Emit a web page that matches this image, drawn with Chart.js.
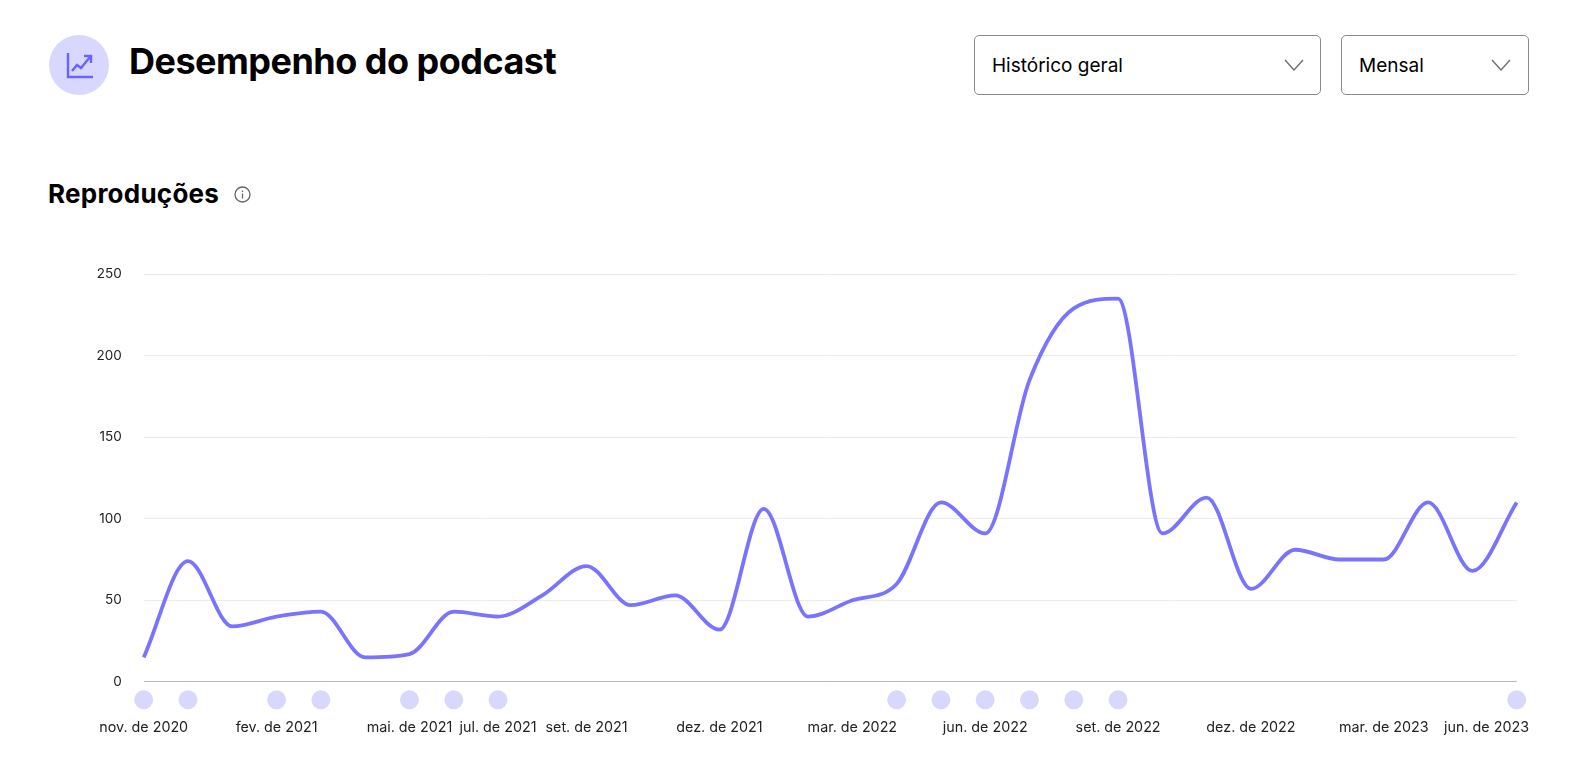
<!DOCTYPE html>
<html lang="pt-BR">
<head>
<meta charset="utf-8">
<title>Desempenho do podcast</title>
<script src="https://cdn.jsdelivr.net/npm/chart.js@4"></script>
<style>
  html, body { margin: 0; padding: 0; background: #fff; width: 1576px; height: 767px; overflow: hidden; font-family: Inter, sans-serif; color: #000; }
  .abs { position: absolute; }
  #badge { left: 49px; top: 35px; width: 60px; height: 60px; border-radius: 50%; background: #d8d8ff; }
  #badge svg { position: absolute; left: 17px; top: 17px; }
  h1 { margin: 0; left: 129px; top: 38px; font-size: 36px; line-height: 46px; font-weight: 700; letter-spacing: -0.52px; white-space: nowrap; }
  h2 { margin: 0; left: 48px; top: 177px; font-size: 26px; line-height: 34px; font-weight: 700; letter-spacing: 0.25px; white-space: nowrap; }
  .select { box-sizing: border-box; height: 60px; top: 35px; border: 1px solid #8a8a8a; border-radius: 5px; font-size: 19px; line-height: 60px; padding-left: 17px; white-space: nowrap; }
  .select svg { position: absolute; top: 23px; }
  #period { left: 974px; width: 347px; }
  #freq { left: 1341px; width: 188px; }
  #info { left: 234px; top: 186px; }
  #wrap { left: 48px; top: 244px; width: 1481px; height: 504px; }
</style>
</head>
<body>
<div class="abs" id="badge">
  <svg width="27" height="27" viewBox="0 0 27 27" fill="none" stroke="#6a63ff" stroke-width="2.4">
    <path d="M2 1v24h25"/>
    <path d="M6 19l5-6 4 3 9-11"/>
    <path d="M18 4h7v7"/>
  </svg>
</div>
<h1 class="abs">Desempenho do podcast</h1>
<div class="abs select" id="period">Histórico geral
  <svg style="left:309px" width="20" height="12" viewBox="0 0 20 12" fill="none" stroke="#6f6f6f" stroke-width="1.4"><path d="M1 1l9 10 9-10"/></svg>
</div>
<div class="abs select" id="freq">Mensal
  <svg style="left:149px" width="20" height="12" viewBox="0 0 20 12" fill="none" stroke="#6f6f6f" stroke-width="1.4"><path d="M1 1l9 10 9-10"/></svg>
</div>
<h2 class="abs">Reproduções</h2>
<svg class="abs" id="info" width="17" height="17" viewBox="0 0 17 17" fill="none" stroke="#666" stroke-width="1.3">
  <circle cx="8.5" cy="8.5" r="7.5"/>
  <path d="M8.5 7.5v5M8.5 4.5v1.4"/>
</svg>
<div class="abs" id="wrap"><canvas id="chart"></canvas></div>

<script>
const months = [
  'nov. de 2020', 'dez. de 2020', 'jan. de 2021', 'fev. de 2021', 'mar. de 2021', 'abr. de 2021',
  'mai. de 2021', 'jun. de 2021', 'jul. de 2021', 'ago. de 2021', 'set. de 2021', 'out. de 2021',
  'nov. de 2021', 'dez. de 2021', 'jan. de 2022', 'fev. de 2022', 'mar. de 2022', 'abr. de 2022',
  'mai. de 2022', 'jun. de 2022', 'jul. de 2022', 'ago. de 2022', 'set. de 2022', 'out. de 2022',
  'nov. de 2022', 'dez. de 2022', 'jan. de 2023', 'fev. de 2023', 'mar. de 2023', 'abr. de 2023',
  'mai. de 2023', 'jun. de 2023'
];
const plays = [15, 74, 34, 40, 43, 15, 17, 43, 40, 53, 71, 47, 53, 32, 106, 40, 50, 60, 110, 91, 185, 229, 235, 91, 113, 57, 81, 75, 75, 110, 68, 110];
const episodeMonths = [
  'nov. de 2020', 'dez. de 2020', 'fev. de 2021', 'mar. de 2021', 'mai. de 2021', 'jun. de 2021', 'jul. de 2021',
  'abr. de 2022', 'mai. de 2022', 'jun. de 2022', 'jul. de 2022', 'ago. de 2022', 'set. de 2022', 'jun. de 2023'
];
const shownMonths = [
  'nov. de 2020', 'fev. de 2021', 'mai. de 2021', 'jul. de 2021', 'set. de 2021', 'dez. de 2021',
  'mar. de 2022', 'jun. de 2022', 'set. de 2022', 'dez. de 2022', 'mar. de 2023'
];
const lastMonth = 'jun. de 2023';
const yTicks = [0, 50, 100, 150, 200, 250];

const tickFont = { family: 'Inter, sans-serif', size: 14.3 };

// the last label is pushed back inside the page, chart.js has no option for that one tick
const lastLabel = {
  id: 'lastLabel',
  afterDraw(chart) {
    const { ctx, width, scales } = chart;
    ctx.save();
    ctx.font = '14.3px Inter, sans-serif';
    ctx.fillStyle = '#222';
    ctx.textAlign = 'right';
    ctx.textBaseline = 'middle';
    ctx.fillText(lastMonth, width, scales.x.top + 10);
    ctx.restore();
  }
};

new Chart(document.getElementById('chart'), {
  type: 'line',
  plugins: [lastLabel],
  data: {
    labels: months,
    datasets: [
      {
        data: plays,
        yAxisID: 'y',
        borderColor: '#7a73ff',
        borderWidth: 3.8,
        cubicInterpolationMode: 'monotone',
        pointRadius: 0,
        fill: false
      },
      {
        data: months.map(m => episodeMonths.includes(m) ? 1 : null),
        yAxisID: 'markers',
        showLine: false,
        pointRadius: 9.5,
        pointBackgroundColor: '#d8d8ff',
        pointBorderWidth: 0,
        clip: false
      }
    ]
  },
  options: {
    responsive: true,
    maintainAspectRatio: false,
    animation: false,
    layout: { padding: { top: 17.5, right: 12.3, bottom: 0, left: 0 } },
    plugins: { legend: { display: false }, tooltip: { enabled: false } },
    scales: {
      x: {
        grid: { display: false, drawTicks: false },
        border: { display: false },
        ticks: {
          autoSkip: false,
          maxRotation: 0,
          padding: 1,
          font: tickFont,
          color: '#222',
          callback(value) {
            const m = this.getLabelForValue(value);
            return shownMonths.includes(m) ? m : '';
          }
        }
      },
      y: {
        stack: 'plot',
        stackWeight: 407,
        weight: 1,
        min: 0,
        max: 250,
        afterBuildTicks(scale) { scale.ticks = yTicks.map(v => ({ value: v })); },
        afterFit(scale) { scale.width = 95.7; },
        grid: {
          drawTicks: false,
          color: ctx => ctx.tick && ctx.tick.value === 0 ? '#b9b9b9' : '#ebebeb'
        },
        border: { display: false },
        ticks: { padding: 22, font: { family: 'Inter, sans-serif', size: 13.5 }, color: '#222' }
      },
      markers: {
        stack: 'plot',
        stackWeight: 36,
        weight: 0,
        min: 0,
        max: 2,
        afterFit(scale) { scale.width = 95.7; },
        grid: { display: false },
        border: { display: false },
        ticks: { display: false }
      }
    }
  }
});
</script>
</body>
</html>
